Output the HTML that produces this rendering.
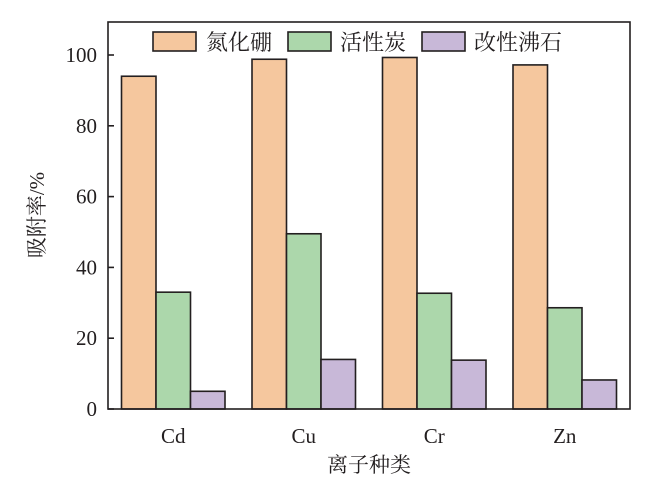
<!DOCTYPE html>
<html><head><meta charset="utf-8"><style>
body{margin:0;background:#fff;}
svg text{font-family:"Liberation Serif","Noto Serif CJK SC",serif;fill:#231f20;}
</style></head><body>
<svg id="chart" width="667" height="491">
<g id="bars"></g>
<rect x="108" y="22" width="522" height="387" fill="none" stroke="#231f20" stroke-width="1.6"/>
<g id="axes"></g>
<g>
 <rect x="153" y="32" width="43" height="19" fill="#f5c79e" stroke="#231f20" stroke-width="1.6"/>
 <text x="206" y="50" font-size="22">氮化硼</text>
 <rect x="288" y="32" width="43" height="19" fill="#acd7ab" stroke="#231f20" stroke-width="1.6"/>
 <text x="340" y="50" font-size="22">活性炭</text>
 <rect x="422" y="32" width="43" height="19" fill="#c8b8d8" stroke="#231f20" stroke-width="1.6"/>
 <text x="474" y="50" font-size="22">改性沸石</text>
</g>
<text x="44" y="215" font-size="21" text-anchor="middle" transform="rotate(-90 44 215)">吸附率/%</text>
<text x="369" y="472" font-size="21" text-anchor="middle">离子种类</text>
</svg>
<script>
const categories=["Cd","Cu","Cr","Zn"];
const bnValues=[94,98.8,99.3,97.2];
const acValues=[33,49.5,32.7,28.6];
const zeoliteValues=[5,14,13.8,8.2];
const yTicks=[0,20,40,60,80,100];
const ns="http://www.w3.org/2000/svg";
const X0=108,X1=630,Y0=409,PX=3.54;
const band=(X1-X0)/categories.length, bw=34.5;
function y(v){return Y0-v*PX;}
function cx(i){return X0+band*(i+0.5);}
const bars=document.getElementById('bars'),axes=document.getElementById('axes');
const series=[[bnValues,"#f5c79e","bn"],[acValues,"#acd7ab","ac"],[zeoliteValues,"#c8b8d8","zeolite"]];
series.forEach((s,si)=>{s[0].forEach((v,i)=>{
 const r=document.createElementNS(ns,'rect');
 r.setAttribute('x',cx(i)+(si-1.5)*bw);r.setAttribute('y',y(v));
 r.setAttribute('width',bw);r.setAttribute('height',v*PX);
 r.setAttribute('fill',s[1]);r.setAttribute('stroke','#231f20');r.setAttribute('stroke-width','1.6');
 
 
 bars.appendChild(r);});});
yTicks.forEach(t=>{
 const l=document.createElementNS(ns,'line');
 l.setAttribute('x1',X0);l.setAttribute('x2',X0+6);l.setAttribute('y1',y(t));l.setAttribute('y2',y(t));
 l.setAttribute('stroke','#231f20');l.setAttribute('stroke-width','1.6');
 
 
 axes.appendChild(l);
 const tx=document.createElementNS(ns,'text');
 tx.setAttribute('x',97);tx.setAttribute('y',y(t)+7);tx.setAttribute('font-size','21');tx.setAttribute('text-anchor','end');
 tx.textContent=t;
 
 
 axes.appendChild(tx);});
categories.forEach((c,i)=>{
 const tx=document.createElementNS(ns,'text');
 tx.setAttribute('x',cx(i));tx.setAttribute('y',443);tx.setAttribute('font-size','21');tx.setAttribute('text-anchor','middle');
 tx.textContent=c;
 
 
 axes.appendChild(tx);});
</script>
</body></html>
